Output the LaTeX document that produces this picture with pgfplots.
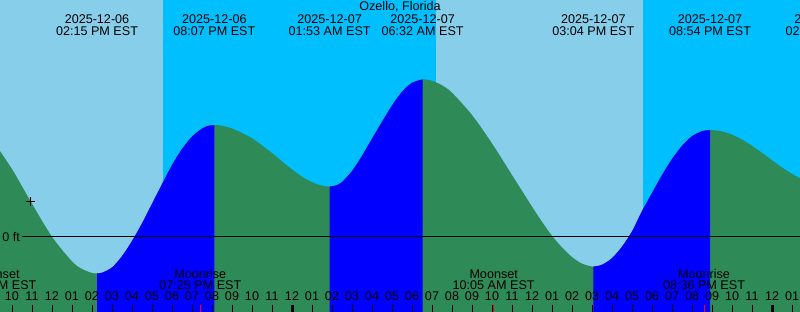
\documentclass[border=0pt]{standalone}
\usepackage{pgfplots}
\usepackage{pgfplotstable}
\pgfplotsset{compat=1.18}
\usepackage{fontspec}
\setmainfont{Liberation Sans}
\definecolor{daysky}{RGB}{135,206,235}
\definecolor{nightsky}{RGB}{0,191,255}
\definecolor{ebb}{RGB}{46,139,87}
\definecolor{flood}{RGB}{0,0,255}
% tide height (ft) vs hours from 2025-12-07 00:00 EST
\pgfplotstableread{
t h
-15 2.436
-14 1.697
-13 0.830
-12 0.007
-11 -0.610
-10.5 -0.800
-10 -0.898
-9.75 -0.910
-9.5 -0.893
-9 -0.762
-8.5 -0.480
-8 -0.100
-7.5 0.340
-7 0.830
-6.5 1.320
-6 1.800
-5.5 2.200
-5 2.510
-4.5 2.710
-4.2 2.778
-3.883 2.800
-3.5 2.783
-3 2.713
-2.5 2.600
-2 2.470
-1.5 2.290
-1 2.100
-0.5 1.890
0 1.690
0.5 1.510
1 1.370
1.5 1.285
1.883 1.260
2.2 1.291
2.5 1.375
3 1.650
3.5 2.030
4 2.460
4.5 2.880
5 3.290
5.5 3.630
6 3.855
6.533 3.940
7 3.906
7.5 3.793
8 3.607
9 3.050
10 2.340
11 1.550
12 0.760
12.5 0.380
13 0.030
13.5 -0.260
14 -0.500
14.5 -0.665
15.067 -0.740
15.5 -0.694
16 -0.529
16.5 -0.240
17 0.140
17.5 0.650
18 1.100
18.5 1.550
19 1.950
19.5 2.280
20 2.520
20.5 2.645
20.9 2.675
21.5 2.639
22 2.558
22.5 2.435
23 2.280
23.5 2.104
24 1.920
24.5 1.740
25 1.579
25.5 1.447
26 1.353
}\tide
\newcommand\lbl[3]{%
  \node[anchor=base,inner sep=0pt] at (axis cs:#1,5.325) {#2};
  \node[anchor=base,inner sep=0pt] at (axis cs:#1,5.025) {#3};}
\newcommand\moon[3]{%
  \node[anchor=base,inner sep=0pt] at (axis cs:#1,-1.0325) {#2};
  \node[anchor=base,inner sep=0pt] at (axis cs:#1,-1.3075) {#3};}
\newcommand\flood[2]{%
  \addplot[fill=flood, draw=none, smooth, restrict x to domain=#1:#2] table[x=t,y=h]{\tide}
    -- (axis cs:#2,-1.875) -- (axis cs:#1,-1.875) -- cycle;}
\begin{document}
\fontsize{12.6}{12}\selectfont
\begin{tikzpicture}
\begin{axis}[
  at={(0,0)}, anchor=south west,
  width=800pt, height=312pt, scale only axis,
  xmin=-14.6, xmax=25.4, ymin=-1.875, ymax=5.925,
  axis x line*=bottom, axis y line=none,
  x axis line style={draw=none},
  axis background/.style={fill=daysky},
  axis on top=true,
  xtick={-14,...,25},
  xticklabels={10,11,12,01,02,03,04,05,06,07,08,09,10,11,12,01,02,03,04,05,06,07,08,09,10,11,12,01,02,03,04,05,06,07,08,09,10,11,12,01},
  tick align=inside, major tick length=7pt,
  tick style={black, line width=1pt},
  xticklabel style={anchor=base, yshift=11.3pt, inner sep=0pt, font=\fontsize{12.6}{12}\selectfont},
  extra x ticks={0,24}, extra x tick labels={,},
  extra x tick style={tick style={line width=3pt}},
]
% night
\addplot[fill=nightsky, draw=none] coordinates {(-6.465,-1.875) (-6.465,5.925) (7.2,5.925) (7.2,-1.875)};
\addplot[fill=nightsky, draw=none] coordinates {(17.53,-1.875) (17.53,5.925) (26,5.925) (26,-1.875)};
% tide: falling (green) everywhere, rising (blue) on top
\addplot[fill=ebb, draw=none, smooth] table[x=t,y=h]{\tide}
  -- (axis cs:26,-1.875) -- (axis cs:-15,-1.875) -- cycle;
\flood{-9.75}{-3.883}
\flood{1.883}{6.533}
\flood{15.067}{20.9}
% zero line
\addplot[black, line width=1pt] coordinates {(-13.5,0) (25.4,0)};
\node[anchor=east, inner sep=0pt] at (axis cs:-13.6,0) {0 ft};
\addplot[only marks, mark=+, mark size=4.5pt, black, line width=1pt] coordinates {(-13.1,0.88)};
% moon ticks
\addplot[red, line width=1pt] coordinates {(-4.583,-1.875) (-4.583,-1.7)};
\addplot[red, line width=1pt] coordinates {(10.083,-1.875) (10.083,-1.7)};
\addplot[red, line width=1pt] coordinates {(20.6,-1.875) (20.6,-1.7)};
% labels
\node[anchor=base, inner sep=0pt] at (axis cs:5.4,5.65) {Ozello, Florida};
\lbl{-9.75}{2025-12-06}{02:15 PM EST}
\lbl{-3.883}{2025-12-06}{08:07 PM EST}
\lbl{1.883}{2025-12-07}{01:53 AM EST}
\lbl{6.533}{2025-12-07}{06:32 AM EST}
\lbl{15.067}{2025-12-07}{03:04 PM EST}
\lbl{20.9}{2025-12-07}{08:54 PM EST}
\lbl{26.73}{2025-12-08}{02:44 AM EST}
\moon{-14.83}{Moonset}{09:09 AM EST}
\moon{-4.583}{Moonrise}{07:25 PM EST}
\moon{10.083}{Moonset}{10:05 AM EST}
\moon{20.6}{Moonrise}{08:36 PM EST}
\end{axis}
\pgfresetboundingbox
\path[use as bounding box] (0,0) rectangle (800pt,312pt);
\end{tikzpicture}
\end{document}
